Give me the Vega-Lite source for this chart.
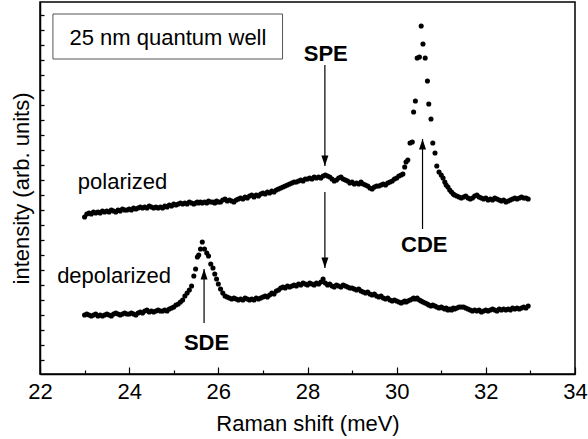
{
  "$schema": "https://vega.github.io/schema/vega-lite/v6.json",
  "width": 535,
  "height": 372,
  "autosize": "none",
  "padding": {"left": 40, "top": 2, "right": 13, "bottom": 65},
  "background": "white",
  "config": {
    "view": {"stroke": "black", "strokeWidth": 1.5},
    "font": "Liberation Sans"
  },
  "datasets": {
    "spectra": [
      {"x":23.00,"p":157,"d":59},{"x":23.05,"p":160,"d":60},{"x":23.10,"p":161,"d":59},{"x":23.15,"p":160,"d":58},
      {"x":23.20,"p":162,"d":59},{"x":23.25,"p":161,"d":60},{"x":23.30,"p":162,"d":58},{"x":23.35,"p":161,"d":59},
      {"x":23.40,"p":163,"d":58},{"x":23.45,"p":162,"d":59},{"x":23.50,"p":163,"d":60},{"x":23.55,"p":162,"d":59},
      {"x":23.60,"p":164,"d":58},{"x":23.65,"p":163,"d":60},{"x":23.70,"p":162,"d":61},{"x":23.75,"p":164,"d":60},
      {"x":23.80,"p":163,"d":59},{"x":23.85,"p":165,"d":60},{"x":23.90,"p":164,"d":61},{"x":23.95,"p":164,"d":60},
      {"x":24.00,"p":165,"d":60},{"x":24.05,"p":164,"d":61},{"x":24.10,"p":166,"d":60},{"x":24.15,"p":165,"d":59},
      {"x":24.20,"p":166,"d":61},{"x":24.25,"p":167,"d":62},{"x":24.30,"p":166,"d":61},{"x":24.35,"p":167,"d":63},
      {"x":24.40,"p":166,"d":64},{"x":24.45,"p":168,"d":62},{"x":24.50,"p":167,"d":63},{"x":24.55,"p":166,"d":62},
      {"x":24.60,"p":167,"d":63},{"x":24.65,"p":166,"d":64},{"x":24.70,"p":167,"d":63},{"x":24.75,"p":166,"d":63},
      {"x":24.80,"p":168,"d":64},{"x":24.85,"p":167,"d":63},{"x":24.90,"p":169,"d":65},{"x":24.95,"p":168,"d":66},
      {"x":25.00,"p":170,"d":67},{"x":25.05,"p":169,"d":69},{"x":25.10,"p":170,"d":70},{"x":25.15,"p":171,"d":72},
      {"x":25.20,"p":170,"d":74},{"x":25.25,"p":171,"d":78},{"x":25.30,"p":170,"d":81},{"x":25.35,"p":172,"d":84},
      {"x":25.40,"p":171,"d":88},{"x":25.45,"p":170,"d":98},{"x":25.49,"p":171,"d":105},{"x":25.53,"p":172,"d":117},
      {"x":25.56,"p":171,"d":119},{"x":25.60,"p":172,"d":125},{"x":25.64,"p":171,"d":132},{"x":25.69,"p":172,"d":125},
      {"x":25.74,"p":171,"d":121},{"x":25.78,"p":173,"d":118},{"x":25.83,"p":172,"d":110},{"x":25.88,"p":172,"d":106},
      {"x":25.92,"p":171,"d":100},{"x":25.96,"p":173,"d":95},{"x":26.00,"p":172,"d":90},{"x":26.05,"p":172,"d":85},
      {"x":26.10,"p":174,"d":81},{"x":26.15,"p":175,"d":78},{"x":26.20,"p":173,"d":77},{"x":26.25,"p":174,"d":76},
      {"x":26.30,"p":173,"d":75},{"x":26.35,"p":172,"d":76},{"x":26.40,"p":174,"d":75},{"x":26.45,"p":175,"d":74},
      {"x":26.50,"p":176,"d":75},{"x":26.55,"p":175,"d":74},{"x":26.60,"p":177,"d":76},{"x":26.65,"p":176,"d":75},
      {"x":26.70,"p":178,"d":74},{"x":26.75,"p":179,"d":75},{"x":26.80,"p":177,"d":74},{"x":26.85,"p":179,"d":76},
      {"x":26.90,"p":178,"d":75},{"x":26.95,"p":180,"d":76},{"x":27.00,"p":181,"d":77},{"x":27.05,"p":180,"d":78},
      {"x":27.10,"p":182,"d":77},{"x":27.15,"p":181,"d":79},{"x":27.20,"p":183,"d":81},{"x":27.25,"p":182,"d":80},
      {"x":27.30,"p":184,"d":83},{"x":27.35,"p":185,"d":84},{"x":27.40,"p":186,"d":86},{"x":27.45,"p":187,"d":87},
      {"x":27.50,"p":188,"d":86},{"x":27.55,"p":189,"d":88},{"x":27.60,"p":190,"d":87},{"x":27.65,"p":191,"d":88},
      {"x":27.70,"p":192,"d":89},{"x":27.75,"p":192,"d":88},{"x":27.80,"p":193,"d":90},{"x":27.85,"p":194,"d":89},
      {"x":27.90,"p":193,"d":91},{"x":27.95,"p":195,"d":90},{"x":28.00,"p":195,"d":89},{"x":28.05,"p":196,"d":91},
      {"x":28.10,"p":195,"d":90},{"x":28.15,"p":197,"d":89},{"x":28.20,"p":196,"d":91},{"x":28.25,"p":197,"d":90},
      {"x":28.30,"p":196,"d":92},{"x":28.35,"p":198,"d":95},{"x":28.40,"p":199,"d":91},{"x":28.45,"p":198,"d":89},
      {"x":28.50,"p":197,"d":90},{"x":28.55,"p":195,"d":88},{"x":28.60,"p":193,"d":87},{"x":28.65,"p":194,"d":89},
      {"x":28.70,"p":196,"d":88},{"x":28.75,"p":197,"d":87},{"x":28.80,"p":195,"d":89},{"x":28.85,"p":194,"d":88},
      {"x":28.90,"p":193,"d":87},{"x":28.95,"p":191,"d":86},{"x":29.00,"p":192,"d":86},{"x":29.05,"p":190,"d":85},
      {"x":29.10,"p":191,"d":84},{"x":29.15,"p":190,"d":85},{"x":29.20,"p":192,"d":83},{"x":29.25,"p":190,"d":82},
      {"x":29.30,"p":189,"d":81},{"x":29.35,"p":188,"d":82},{"x":29.40,"p":186,"d":80},{"x":29.45,"p":185,"d":79},
      {"x":29.50,"p":187,"d":80},{"x":29.55,"p":188,"d":78},{"x":29.60,"p":188,"d":77},{"x":29.65,"p":189,"d":78},
      {"x":29.70,"p":190,"d":76},{"x":29.75,"p":189,"d":75},{"x":29.80,"p":191,"d":76},{"x":29.85,"p":192,"d":74},
      {"x":29.90,"p":193,"d":73},{"x":29.95,"p":195,"d":74},{"x":30.00,"p":196,"d":73},{"x":30.05,"p":198,"d":72},
      {"x":30.10,"p":199,"d":71},{"x":30.14,"p":200,"d":72},{"x":30.18,"p":207,"d":73},{"x":30.21,"p":212,"d":72},
      {"x":30.25,"p":214,"d":73},{"x":30.30,"p":231,"d":74},{"x":30.35,"p":232,"d":75},{"x":30.38,"p":262,"d":76},
      {"x":30.42,"p":273,"d":75},{"x":30.46,"p":316,"d":76},{"x":30.51,"p":317,"d":74},{"x":30.55,"p":348,"d":73},
      {"x":30.59,"p":330,"d":72},{"x":30.64,"p":316,"d":71},{"x":30.69,"p":293,"d":70},{"x":30.72,"p":270,"d":69},
      {"x":30.77,"p":255,"d":68},{"x":30.81,"p":231,"d":69},{"x":30.86,"p":221,"d":68},{"x":30.90,"p":208,"d":67},
      {"x":30.95,"p":202,"d":66},{"x":31.00,"p":199,"d":67},{"x":31.04,"p":196,"d":66},{"x":31.08,"p":192,"d":65},
      {"x":31.11,"p":189,"d":66},{"x":31.15,"p":187,"d":64},{"x":31.19,"p":184,"d":65},{"x":31.23,"p":182,"d":64},
      {"x":31.27,"p":180,"d":66},{"x":31.30,"p":179,"d":65},{"x":31.35,"p":178,"d":66},{"x":31.40,"p":177,"d":67},
      {"x":31.45,"p":176,"d":67},{"x":31.50,"p":177,"d":67},{"x":31.55,"p":178,"d":66},{"x":31.60,"p":176,"d":65},
      {"x":31.65,"p":175,"d":64},{"x":31.70,"p":176,"d":63},{"x":31.75,"p":178,"d":64},{"x":31.80,"p":179,"d":63},
      {"x":31.85,"p":177,"d":64},{"x":31.90,"p":176,"d":62},{"x":31.95,"p":175,"d":63},{"x":32.00,"p":176,"d":64},
      {"x":32.05,"p":174,"d":63},{"x":32.10,"p":175,"d":64},{"x":32.15,"p":174,"d":65},{"x":32.20,"p":176,"d":64},
      {"x":32.25,"p":175,"d":63},{"x":32.30,"p":174,"d":65},{"x":32.35,"p":173,"d":64},{"x":32.40,"p":174,"d":65},
      {"x":32.45,"p":172,"d":64},{"x":32.50,"p":173,"d":65},{"x":32.55,"p":174,"d":64},{"x":32.60,"p":175,"d":66},
      {"x":32.65,"p":176,"d":65},{"x":32.70,"p":175,"d":66},{"x":32.75,"p":176,"d":65},{"x":32.80,"p":177,"d":66},
      {"x":32.85,"p":176,"d":67},{"x":32.90,"p":176,"d":66},{"x":32.95,"p":175,"d":68}
    ],
    "arrows": [
      {"x":28.39,"y":309,"y2":208,"dir":"down"},
      {"x":28.39,"y":182,"y2":106,"dir":"down"},
      {"x":30.58,"y":145,"y2":235,"dir":"up"},
      {"x":25.68,"y":51,"y2":105,"dir":"up"}
    ]
  },
  "layer": [
    {
      "data": {"name": "spectra"},
      "transform": [{"fold": ["p", "d"], "as": ["series", "intensity"]}],
      "mark": {"type": "point", "filled": true, "color": "black", "size": 26, "opacity": 1},
      "encoding": {
        "x": {
          "field": "x", "type": "quantitative",
          "scale": {"domain": [22, 34], "nice": false, "zero": false},
          "axis": {
            "title": "Raman shift (meV)",
            "values": [22,23,24,25,26,27,28,29,30,31,32,33,34],
            "format": "d",
            "labelExpr": "datum.value % 2 === 0 ? datum.label : ''",
            "tickSize": {"condition": {"test": "datum.value % 2 === 0", "value": -7}, "value": -4},
            "tickColor": "black", "tickWidth": 1.2,
            "domainColor": "black", "domainWidth": 1.5,
            "grid": false,
            "labelFont": "Liberation Sans", "labelFontSize": 22, "labelColor": "black",
            "labelPadding": 14, "labelFlush": false, "labelOverlap": false,
            "titleFont": "Liberation Sans", "titleFontSize": 22, "titleFontWeight": "normal",
            "titleColor": "black", "titlePadding": 8
          }
        },
        "y": {
          "field": "intensity", "type": "quantitative",
          "scale": {"domain": [0, 372], "nice": false, "zero": false},
          "axis": {
            "title": "intensity (arb. units)",
            "values": [14,29,44,59,74,89,104,119,134,149,164,179,194,209,224,239,254,269,284,299,314,329,344,359],
            "tickCount": 40,
            "labels": false, "labelOverlap": false,
            "tickSize": -4, "tickColor": "black", "tickWidth": 1.3,
            "domainColor": "black", "domainWidth": 1.5,
            "grid": false,
            "titleFont": "Liberation Sans", "titleFontSize": 22, "titleFontWeight": "normal",
            "titleColor": "black", "titlePadding": 6
          }
        }
      }
    },
    {
      "data": {"values": [{"x1": 22.29, "x2": 27.44, "y1": 315, "y2": 360}]},
      "mark": {"type": "rect", "fill": "white", "stroke": "#555555", "strokeWidth": 1},
      "encoding": {
        "x": {"field": "x1", "type": "quantitative"},
        "x2": {"field": "x2"},
        "y": {"field": "y1", "type": "quantitative"},
        "y2": {"field": "y2"}
      }
    },
    {
      "data": {"values": [
        {"x": 24.87, "y": 336, "t": "25 nm quantum well"},
        {"x": 23.85, "y": 192, "t": "polarized"},
        {"x": 23.66, "y": 98, "t": "depolarized"}
      ]},
      "mark": {"type": "text", "font": "Liberation Sans", "fontSize": 22, "color": "black", "align": "center", "baseline": "middle"},
      "encoding": {
        "x": {"field": "x", "type": "quantitative"},
        "y": {"field": "y", "type": "quantitative"},
        "text": {"field": "t"}
      }
    },
    {
      "data": {"values": [
        {"x": 28.41, "y": 320, "t": "SPE"},
        {"x": 30.62, "y": 129, "t": "CDE"},
        {"x": 25.735, "y": 31, "t": "SDE"}
      ]},
      "mark": {"type": "text", "font": "Liberation Sans", "fontSize": 22, "fontWeight": "bold", "color": "black", "align": "center", "baseline": "middle"},
      "encoding": {
        "x": {"field": "x", "type": "quantitative"},
        "y": {"field": "y", "type": "quantitative"},
        "text": {"field": "t"}
      }
    },
    {
      "data": {"name": "arrows"},
      "mark": {"type": "rule", "color": "black", "strokeWidth": 1.2},
      "encoding": {
        "x": {"field": "x", "type": "quantitative"},
        "y": {"field": "y", "type": "quantitative"},
        "y2": {"field": "y2"}
      }
    },
    {
      "data": {"name": "arrows"},
      "transform": [{"filter": "datum.dir === 'down'"}],
      "mark": {"type": "point", "filled": true, "color": "black", "opacity": 1, "size": 49, "shape": "M-1,-3L1,-3L0,0Z"},
      "encoding": {
        "x": {"field": "x", "type": "quantitative"},
        "y": {"field": "y2", "type": "quantitative"}
      }
    },
    {
      "data": {"name": "arrows"},
      "transform": [{"filter": "datum.dir === 'up'"}],
      "mark": {"type": "point", "filled": true, "color": "black", "opacity": 1, "size": 49, "shape": "M-1,3L1,3L0,0Z"},
      "encoding": {
        "x": {"field": "x", "type": "quantitative"},
        "y": {"field": "y2", "type": "quantitative"}
      }
    }
  ]
}
